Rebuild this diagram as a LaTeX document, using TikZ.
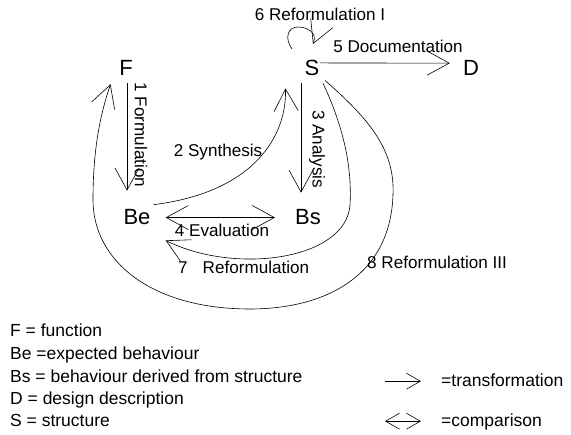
\documentclass[tikz,border=0pt]{standalone}
\usepackage{fontspec}
\setmainfont{Liberation Sans}
\usetikzlibrary{arrows.meta}
\begin{document}
\begin{tikzpicture}[x=1pt,y=-1pt,
  big/.style={font=\fontsize{22}{26}\selectfont, inner sep=0pt, anchor=base},
  lbl/.style={font=\fontsize{17.1}{20}\selectfont, inner sep=0pt},
  leg/.style={font=\fontsize{17.5}{20}\selectfont, inner sep=0pt, anchor=base west},
  conn/.style={line width=0.6pt, -{Straight Barb[length=22pt,width=24pt]}},
  both/.style={line width=0.6pt, {Straight Barb[length=22pt,width=24pt]}-{Straight Barb[length=22pt,width=24pt]}},
  lconn/.style={line width=0.6pt, -{Straight Barb[length=14pt,width=16pt]}},
  lboth/.style={line width=0.6pt, {Straight Barb[length=14pt,width=16pt]}-{Straight Barb[length=14pt,width=16pt]}}]
\useasboundingbox (0,0) rectangle (571,435);
% main nodes
\node[big] (F) at (126,76) {F};
\node[big] (S) at (312,76) {S};
\node[big] (D) at (471,76) {D};
\node[big] (Be) at (137,225) {Be};
\node[big] (Bs) at (308,225) {Bs};
% labels
\node[lbl, anchor=base] (l6) at (320,21) {6 Reformulation I};
\node[lbl, anchor=base] (l5) at (398,53) {5 Documentation};
\node[lbl, rotate=-90] (l1) at (141,135) {1 Formulation};
\node[lbl, rotate=-90] (l3) at (317,149) {3 Analysis};
\node[lbl, anchor=base] (l2) at (218,157) {2 Synthesis};
\node[lbl, anchor=base] (l4) at (222,236.5) {4 Evaluation};
\node[lbl, anchor=base west] (l7) at (178,274) {7\hspace{15pt}Reformulation};
\node[lbl, anchor=base west] (l8) at (367,269) {8 Reformulation III};
% connectors
\draw[conn] ([xshift=1pt,yshift=-7pt]F.south) -- ([xshift=-10pt,yshift=19pt]Be.north);
\draw[conn] ([xshift=3pt,yshift=5pt]Be.north east) .. controls (255,192) and (287,135) .. ([xshift=-19pt,yshift=-12pt]S.south west);
\draw[conn] ([xshift=-11pt,yshift=-7pt]S.south) -- ([xshift=-7pt,yshift=17pt]Bs.north);
\draw[both] ([xshift=15pt]Be.east) -- ([xshift=-20pt]Bs.west);
\draw[conn] ([yshift=-2.5pt]S.north east) -- ([xshift=-13pt,yshift=-2.5pt]D.north west);
\draw[conn] ([xshift=-20pt,yshift=11.5pt]S.north) .. controls (284,38) and (288,27) .. (298,27) .. controls (306,27) and (318,32) .. ([xshift=1pt,yshift=16.5pt]S.north);
\draw[conn] ([xshift=3.5pt,yshift=-7pt]S.south east) .. controls (345,130) and (352,170) .. (350,205) .. controls (346,260) and (235,275) .. ([xshift=15pt,yshift=-15pt]Be.south east);
\draw[conn] ([xshift=5.5pt,yshift=-4pt]S.south east) .. controls (370,120) and (395,150) .. (393,195) .. controls (390,280) and (320,309) .. (250,309) .. controls (150,309) and (93,260) .. (93,200) .. controls (93,150) and (100,115) .. ([xshift=-8.5pt,yshift=-8pt]F.south west);
% legend
\node[leg] (k1) at (10,337) {F = function};
\node[leg] (k2) at (10,360) {Be =expected behaviour};
\node[leg] (k3) at (10,382.7) {Bs = behaviour derived from structure};
\node[leg] (k4) at (10,404.5) {D = design description};
\node[leg] (k5) at (10,426.7) {S = structure};
\node[leg] (t1) at (441,386.7) {=transformation};
\node[leg] (t2) at (441,426.7) {=comparison};
\draw[lconn] ([xshift=-56pt,yshift=5.5pt]t1.base west) -- ([xshift=-20pt,yshift=5.5pt]t1.base west);
\draw[lboth] ([xshift=-56pt,yshift=5.5pt]t2.base west) -- ([xshift=-20pt,yshift=5.5pt]t2.base west);
\end{tikzpicture}
\end{document}
